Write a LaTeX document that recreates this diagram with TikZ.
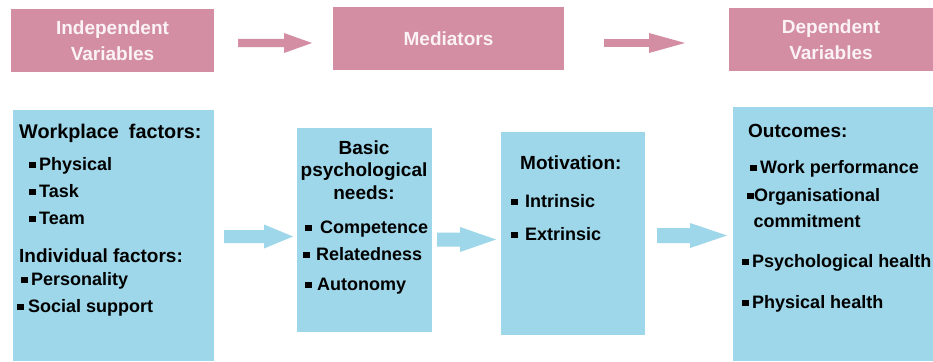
\documentclass[tikz,border=0pt]{standalone}
\usepackage{fontspec}
\setmainfont{Liberation Sans}
\definecolor{rosebox}{RGB}{211,142,164}
\definecolor{skybox}{RGB}{157,215,233}
\definecolor{headtext}{RGB}{251,242,246}
% small filled square used as list bullet
\newcommand\sqbullet{\rule[1.6pt]{6.5pt}{6.5pt}}
% block arrow: colour, tail x, head-start x, tip x, centre y, shaft half-width, head half-width
\newcommand\blockarrow[7]{%
  \fill[#1] (#2,#5-#6) -- (#3,#5-#6) -- (#3,#5-#7) -- (#4,#5)
            -- (#3,#5+#7) -- (#3,#5+#6) -- (#2,#5+#6) -- cycle;}
\begin{document}
\begin{tikzpicture}[
  x=1pt, y=-1pt,
  topbox/.style={fill=rosebox, text=headtext, align=center, inner sep=0pt,
    font=\fontsize{19}{26}\selectfont\bfseries},
  panel/.style={fill=skybox, inner sep=0pt, anchor=north west},
  heading/.style={anchor=base west, inner sep=0pt, font=\fontsize{19}{22}\selectfont\bfseries},
  cheading/.style={anchor=base, inner sep=0pt, font=\fontsize{19}{22}\selectfont\bfseries},
  entry/.style={anchor=base west, inner sep=0pt, font=\fontsize{18}{22}\selectfont\bfseries}
]
\useasboundingbox (0,0) rectangle (933,361);
\fill[white] (0,0) rectangle (933,361);

% header row
\node[topbox, minimum width=203pt, minimum height=63pt] (iv) at (112.5,40.5) {Independent\\Variables};
\node[topbox, minimum width=231pt, minimum height=63pt] (med) at (448.5,38.5) {Mediators};
\node[topbox, minimum width=204pt, minimum height=63pt] (dv) at (831,39.5) {Dependent\\Variables};
\blockarrow{rosebox}{238}{284}{312}{43}{4.2}{10}
\blockarrow{rosebox}{604}{649}{685}{43}{3.8}{10}

% content panels
\node[panel, minimum width=201pt, minimum height=251pt] (factors) at (13,110) {};
\node[panel, minimum width=135pt, minimum height=204pt] (needs) at (297,128) {};
\node[panel, minimum width=144pt, minimum height=203pt] (motiv) at (501,132) {};
\node[panel, minimum width=200pt, minimum height=254pt] (outc) at (733,107) {};

\blockarrow{skybox}{224}{264}{293}{236.5}{6.5}{12}
\blockarrow{skybox}{437}{460}{496}{239.5}{7}{12.5}
\blockarrow{skybox}{657}{690}{727}{235.5}{7.5}{12.5}

% independent variables
\node[heading, font=\fontsize{19.8}{22}\selectfont\bfseries] (wp) at (19,138) {Workplace\hspace{10pt}factors:};
\node[entry] (phys) at (29,170) {\sqbullet\hspace{3.5pt}Physical};
\node[entry] (task) at (29,197) {\sqbullet\hspace{3.5pt}Task};
\node[entry] (team) at (29,224) {\sqbullet\hspace{3.5pt}Team};
\node[heading] (ind) at (19,262) {Individual factors:};
\node[entry] (pers) at (21,285) {\sqbullet\hspace{3.5pt}Personality};
\node[entry] (soc) at (17,312) {\sqbullet\hspace{4.5pt}Social support};

% basic psychological needs
\node[cheading] (bpn1) at (364,154) {Basic};
\node[cheading] (bpn2) at (364,176.5) {psychological};
\node[cheading] (bpn3) at (364,199) {needs:};
\node[entry] (comp) at (305,233) {\sqbullet\hspace{8.5pt}Competence};
\node[entry] (rel) at (303,260) {\sqbullet\hspace{6.5pt}Relatedness};
\node[entry] (aut) at (305,290) {\sqbullet\hspace{5.5pt}Autonomy};

% motivation
\node[heading] (mot) at (520,169) {Motivation:};
\node[entry] (intr) at (511,207) {\sqbullet\hspace{7.5pt}Intrinsic};
\node[entry] (extr) at (511,240) {\sqbullet\hspace{7.5pt}Extrinsic};

% outcomes
\node[heading] (out) at (748,137) {Outcomes:};
\node[entry] (work) at (750,173) {\sqbullet\hspace{3.5pt}Work performance};
\node[entry] (org) at (747,201) {\sqbullet\hspace{0.5pt}Organisational};
\node[entry] (com) at (753.5,227) {commitment};
\node[entry] (psyh) at (742,267) {\sqbullet\hspace{3.5pt}Psychological health};
\node[entry] (phyh) at (742,308) {\sqbullet\hspace{3.5pt}Physical health};
\end{tikzpicture}
\end{document}
